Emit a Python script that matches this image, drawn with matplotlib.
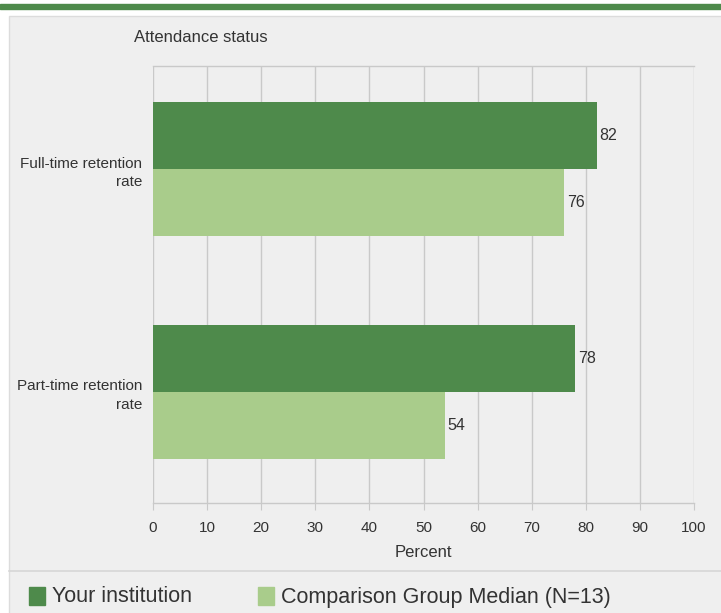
import matplotlib
matplotlib.use("Agg")
import matplotlib.pyplot as plt
from matplotlib.patches import Rectangle
from matplotlib.lines import Line2D

# data
categories = ["Full-time retention\nrate", "Part-time retention\nrate"]
your_institution = [82, 78]
comparison_median = [76, 54]
series_names = ["Your institution", "Comparison Group Median (N=13)"]
x_ticks = [0, 10, 20, 30, 40, 50, 60, 70, 80, 90, 100]

DARK = "#4e8a4b"
LIGHT = "#a9cc8b"
PANEL = "#efefef"
GRID = "#c9c9c9"
TEXT = "#333333"

plt.rcParams["font.family"] = ["Liberation Sans", "DejaVu Sans"]

fig = plt.figure(figsize=(7.21, 6.13), dpi=100)
W, H = 721, 613

def fx(px):
    return px / W

def fy(py):
    return 1 - py / H

# top green band and grey panel (behind the axes)
fig.patches.append(Rectangle((0, fy(9)), 1, 5 / H, transform=fig.transFigure,
                             color=DARK, zorder=-2))
fig.patches.append(Rectangle((fx(9), -0.01), 1, fy(16) + 0.01, transform=fig.transFigure,
                             facecolor=PANEL, edgecolor="#dcdcdc", lw=1, zorder=-2))
fig.lines.append(Line2D([fx(9), 1], [fy(571), fy(571)], transform=fig.transFigure,
                        color="#d6d6d6", lw=1.2, zorder=-1))

ax = fig.add_axes([fx(153), fy(503), (694 - 153) / W, (503 - 66) / H])
ax.set_facecolor(PANEL)

ypos = list(range(len(categories)))
h = 0.30
ax.barh([y - h / 2 for y in ypos], your_institution, height=h, color=DARK, zorder=3)
ax.barh([y + h / 2 for y in ypos], comparison_median, height=h, color=LIGHT, zorder=3)

for y, v in zip(ypos, your_institution):
    ax.text(v + 0.5, y - h / 2, str(v), va="center", ha="left", fontsize=11.5, color=TEXT)
for y, v in zip(ypos, comparison_median):
    ax.text(v + 0.5, y + h / 2, str(v), va="center", ha="left", fontsize=11.5, color=TEXT)

ax.set_xlim(0, 100)
ax.set_ylim(1.498, -0.462)
ax.set_xticks(x_ticks)
ax.set_yticks(ypos)
ax.set_yticklabels(categories, fontsize=11, color=TEXT, ha="right", linespacing=1.45)
ax.tick_params(axis="y", length=0, pad=8)
ax.tick_params(axis="x", length=5, color=GRID, labelsize=11, labelcolor=TEXT, pad=8)
ax.grid(axis="x", color=GRID, lw=1, zorder=0)
for s in ["left", "right"]:
    ax.spines[s].set_visible(False)
for s in ["top", "bottom"]:
    ax.spines[s].set_color(GRID)
    ax.spines[s].set_linewidth(1)
ax.set_xlabel("Percent", fontsize=12, color=TEXT, labelpad=7)

fig.text(fx(134), fy(38), "Attendance status", fontsize=12, color=TEXT,
         ha="left", va="center")

# legend below the panel separator
legend_x = [29, 258]
for name, color, lx in zip(series_names, [DARK, LIGHT], legend_x):
    fig.patches.append(Rectangle((fx(lx), fy(605)), 16 / W, 18 / H,
                                 transform=fig.transFigure, color=color))
    fig.text(fx(lx + 23), fy(597), name, fontsize=15.5, color=TEXT,
             ha="left", va="center")

fig.savefig("out.png", dpi=100)
